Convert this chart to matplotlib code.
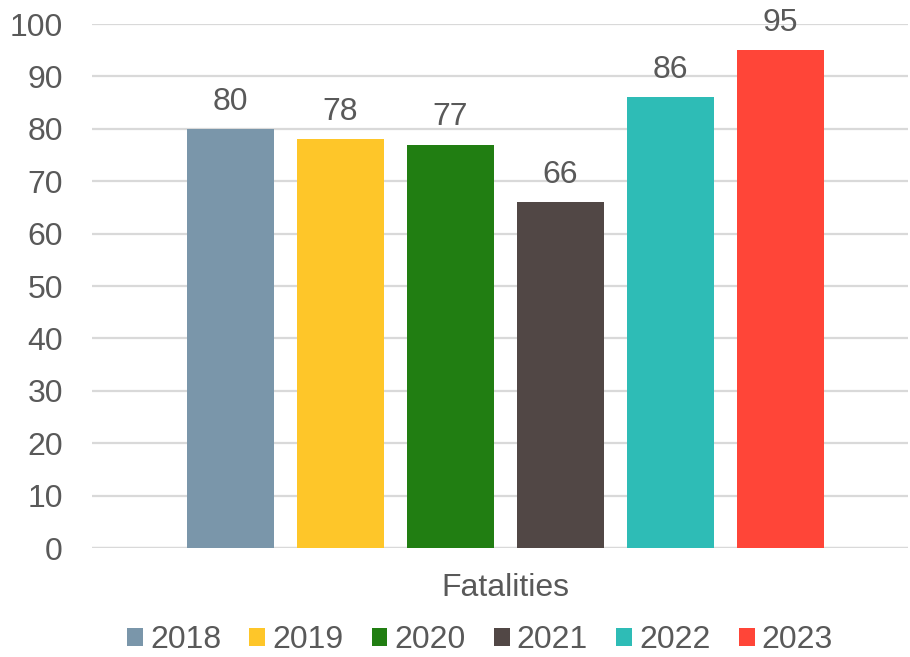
import matplotlib.pyplot as plt
import numpy as np

plt.rcParams['font.family'] = ['Liberation Sans', 'DejaVu Sans']

category = 'Fatalities'
years = ['2018', '2019', '2020', '2021', '2022', '2023']
values = [80, 78, 77, 66, 86, 95]
colors = ['#7a96aa', '#fec629', '#217e12', '#514745', '#2ebcb6', '#ff4538']

text_color = '#595959'
grid_color = '#d9d9d9'

fig = plt.figure(figsize=(9.1, 6.57), dpi=100)
ax = fig.add_axes([92 / 910, 1 - 548 / 657, 816 / 910, (548 - 24) / 657])

offsets = np.arange(len(years)) - (len(years) - 1) / 2
for off, yr, v, c in zip(offsets, years, values, colors):
    ax.bar(off, v, width=0.79, color=c, label=yr, zorder=3)
    ax.text(off, v + 2.3, str(v), ha='center', va='bottom',
            fontsize=23, color=text_color)

ax.set_xlim(-3.755, 3.66)
ax.set_ylim(0, 100)
ax.set_yticks(range(0, 101, 10))
ax.set_xticks([0])
ax.set_xticklabels([category])
ax.tick_params(axis='both', length=0, labelsize=23, colors=text_color)
ax.tick_params(axis='x', pad=18)
ax.tick_params(axis='y', pad=21)

ax.grid(axis='y', color=grid_color, linewidth=1.6, zorder=0)
for s in ax.spines.values():
    s.set_visible(False)
ax.axhline(0, color=grid_color, linewidth=1.6, zorder=2)

leg = ax.legend(loc='center', bbox_to_anchor=(480 / 910, 1 - 640 / 657), bbox_transform=fig.transFigure,
                ncol=6, frameon=False, fontsize=23, handlelength=0.5, handleheight=0.5,
                handletextpad=0.22, columnspacing=0.88, labelcolor=text_color,
                borderpad=0.1)

fig.savefig('out.png', dpi=100)
